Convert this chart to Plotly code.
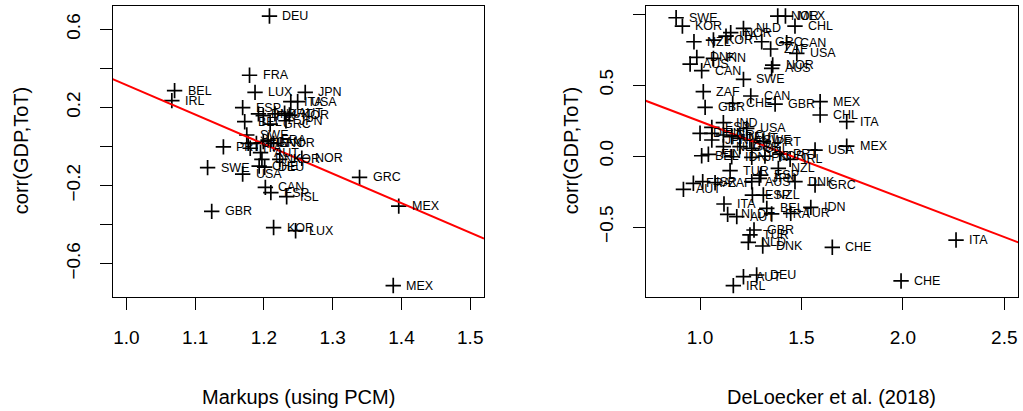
import plotly.graph_objects as go

# ---------------- data: left panel (Markups using PCM) ----------------
left_labels = ["DEU", "FRA", "BEL", "IRL", "LUX", "JPN", "ITA", "USA", "ESP", "DNK",
               "FIN", "PRT", "AUT", "KOR", "BEL", "GRC", "JPN", "SWE", "PRT", "CHE",
               "ITA", "FIN", "CAN", "FRA", "NOR", "AUT", "DNK", "KOR", "NOR", "CHE",
               "DEU", "SWE", "USA", "CAN", "ESP", "ISL", "GRC", "MEX", "GBR", "KOR",
               "LUX", "MEX"]
left_x = [1.208, 1.179, 1.070, 1.066, 1.187, 1.260, 1.239, 1.249, 1.169, 1.192,
          1.199, 1.216, 1.230, 1.237, 1.172, 1.209, 1.232, 1.175, 1.141, 1.177,
          1.180, 1.189, 1.199, 1.206, 1.214, 1.195, 1.197, 1.223, 1.255, 1.193,
          1.201, 1.118, 1.169, 1.202, 1.210, 1.233, 1.339, 1.396, 1.124, 1.214,
          1.246, 1.388]
left_y = [0.668, 0.365, 0.286, 0.235, 0.277, 0.277, 0.230, 0.230, 0.199, 0.167,
          0.158, 0.167, 0.170, 0.161, 0.127, 0.115, 0.132, 0.059, -0.002, 0.016,
          -0.009, 0.016, 0.025, 0.033, 0.016, -0.031, -0.066, -0.066, -0.060, -0.100,
          -0.106, -0.108, -0.141, -0.209, -0.236, -0.257, -0.158, -0.305, -0.332, -0.415,
          -0.431, -0.712]
left_fit = (1.828, -1.513)          # intercept, slope of fitted line
left_xrange = [0.98, 1.52]
left_yrange = [-0.769, 0.721]
left_xticks = [1.0, 1.1, 1.2, 1.3, 1.4, 1.5]
left_xticktext = ["1.0", "1.1", "1.2", "1.3", "1.4", "1.5"]
left_yticks = [-0.6, -0.4, -0.2, 0.0, 0.2, 0.4, 0.6]
left_yticktext = ["\u22120.6", "", "\u22120.2", "", "0.2", "", "0.6"]

# ---------------- data: right panel (DeLoecker et al. 2018) ----------------
right_labels = ["SWE", "KOR", "NOR", "MEX", "CHL", "NLD", "NZL", "KOR", "NOR", "ITA",
                "GRC", "CAN", "ZAF", "USA", "DNK", "FIN", "AUS", "CAN", "SWE", "NOR",
                "AUS", "ZAF", "CAN", "GBR", "CHE", "GBR", "MEX", "CHL", "ITA", "MEX",
                "USA", "IRL", "NZL", "IND", "USA", "ESP", "DEU", "FIN", "JPN", "GRC",
                "DEU", "AUT", "SWE", "PRT", "NLD", "GBR", "BEL", "BEL", "FIN", "IDN",
                "JPN", "KOR", "PRT", "TUR", "ESP", "JPN", "DNK", "GRC", "AUT", "FRA",
                "ISR", "ZAF", "AUS", "ESP", "NZL", "ITA", "NLD", "AUT", "BEL", "FRA",
                "TUR", "IDN", "GBR", "TUR", "NLD", "DNK", "CHE", "ITA", "AUT", "DEU",
                "IRL", "CHE"]
right_x = [0.882, 0.913, 1.383, 1.421, 1.468, 1.214, 0.970, 1.066, 1.151, 1.128,
           1.304, 1.427, 1.348, 1.477, 0.984, 1.066, 0.951, 1.008, 1.214, 1.358,
           1.353, 1.016, 1.250, 1.025, 1.161, 1.370, 1.592, 1.592, 1.723, 1.723,
           1.567, 1.444, 1.386, 1.115, 1.230, 1.058, 1.000, 1.058, 1.058, 1.115,
           1.156, 1.197, 1.246, 1.312, 1.115, 1.197, 1.255, 1.008, 1.041, 1.156,
           1.255, 1.320, 1.394, 1.148, 1.299, 1.292, 1.468, 1.567, 0.918, 0.967,
           1.013, 1.074, 1.255, 1.258, 1.312, 1.118, 1.136, 1.181, 1.329, 1.353,
           1.447, 1.546, 1.266, 1.246, 1.238, 1.309, 1.652, 2.262, 1.214, 1.279,
           1.164, 1.991]
right_y = [0.974, 0.915, 0.986, 0.986, 0.915, 0.899, 0.805, 0.817, 0.869, 0.845,
           0.805, 0.798, 0.754, 0.723, 0.695, 0.688, 0.648, 0.601, 0.540, 0.641,
           0.617, 0.453, 0.423, 0.343, 0.371, 0.366, 0.383, 0.289, 0.242, 0.070,
           0.042, -0.023, -0.087, 0.235, 0.195, 0.202, 0.160, 0.160, 0.113, 0.148,
           0.136, 0.124, 0.113, 0.101, 0.066, 0.066, 0.054, 0.002, 0.012, -0.005,
           -0.009, 0.000, 0.014, -0.103, -0.134, -0.157, -0.181, -0.204, -0.235, -0.192,
           -0.181, -0.188, -0.181, -0.275, -0.275, -0.338, -0.411, -0.427, -0.369, -0.408,
           -0.404, -0.362, -0.521, -0.556, -0.608, -0.634, -0.643, -0.592, -0.850, -0.838,
           -0.913, -0.880]
right_fit = (0.787, -0.543)
right_xrange = [0.732, 2.569]
right_yrange = [-0.991, 1.059]
right_xticks = [1.0, 1.5, 2.0, 2.5]
right_xticktext = ["1.0", "1.5", "2.0", "2.5"]
right_yticks = [-0.5, 0.0, 0.5, 1.0]
right_yticktext = ["\u22120.5", "0.0", "0.5", "1.0"]

y_title = "corr(GDP,ToT)"
left_xtitle = "Markups (using PCM)"
right_xtitle = "DeLoecker et al. (2018)"

FONT = "Liberation Sans, Arial, Helvetica, sans-serif"
W, H = 1023, 411


def px_x(p):
    return p / W


def px_y(p):
    return 1 - p / H


left_dom = [px_x(112.7), px_x(484.0)]
right_dom = [px_x(645.7), px_x(1018.3)]
y_dom = [px_y(296.7), px_y(5.7)]

fig = go.Figure()

panels = [
    ("x", "y", left_x, left_y, left_labels, left_fit, left_xrange),
    ("x2", "y2", right_x, right_y, right_labels, right_fit, right_xrange),
]
annotations = []
for xa, ya, xs, ys, labs, fit, xr in panels:
    fig.add_trace(go.Scatter(
        x=xs, y=ys, mode="markers", xaxis=xa, yaxis=ya,
        marker=dict(symbol="cross-thin", size=11, color="black",
                    line=dict(color="black", width=1.7)),
        showlegend=False, hoverinfo="skip", cliponaxis=False))
    a, b = fit
    fig.add_trace(go.Scatter(
        x=xr, y=[a + b * xr[0], a + b * xr[1]], mode="lines", xaxis=xa, yaxis=ya,
        line=dict(color="#ff0000", width=2), showlegend=False, hoverinfo="skip"))
    for lx, ly, lt in zip(xs, ys, labs):
        annotations.append(dict(
            x=lx, y=ly, xref=xa, yref=ya, text=lt, showarrow=False,
            xanchor="left", yanchor="middle", xshift=12, borderpad=0,
            font=dict(family=FONT, size=12.5, color="black")))

axis_common = dict(showline=True, linecolor="black", linewidth=1, mirror=True,
                   ticks="outside", ticklen=12, tickcolor="black", tickwidth=1,
                   showgrid=False, zeroline=False, automargin=False,
                   tickfont=dict(family=FONT, size=19, color="black"))

fig.update_layout(
    width=W, height=H,
    margin=dict(l=0, r=0, t=0, b=0, pad=0, autoexpand=False),
    paper_bgcolor="white", plot_bgcolor="white",
    xaxis=dict(domain=left_dom, range=left_xrange, anchor="y",
               tickvals=left_xticks, ticktext=left_xticktext,
               ticklabelstandoff=11, **axis_common),
    yaxis=dict(domain=y_dom, range=left_yrange, anchor="x",
               tickvals=left_yticks, ticktext=left_yticktext,
               tickangle=-90, ticklabelstandoff=12, **axis_common),
    xaxis2=dict(domain=right_dom, range=right_xrange, anchor="y2",
                tickvals=right_xticks, ticktext=right_xticktext,
                ticklabelstandoff=11, **axis_common),
    yaxis2=dict(domain=y_dom, range=right_yrange, anchor="x2",
                tickvals=right_yticks, ticktext=right_yticktext,
                tickangle=-90, ticklabelstandoff=12, **axis_common),
)

title_font = dict(family=FONT, size=20, color="black")
annotations += [
    dict(x=(left_dom[0] + left_dom[1]) / 2, y=px_y(397), xref="paper", yref="paper",
         text=left_xtitle, showarrow=False, xanchor="center", yanchor="middle", font=title_font),
    dict(x=(right_dom[0] + right_dom[1]) / 2, y=px_y(397), xref="paper", yref="paper",
         text=right_xtitle, showarrow=False, xanchor="center", yanchor="middle", font=title_font),
    dict(x=px_x(21), y=(y_dom[0] + y_dom[1]) / 2, xref="paper", yref="paper",
         text=y_title, showarrow=False, textangle=-90, xanchor="center", yanchor="middle", font=title_font),
    dict(x=px_x(571), y=(y_dom[0] + y_dom[1]) / 2, xref="paper", yref="paper",
         text=y_title, showarrow=False, textangle=-90, xanchor="center", yanchor="middle", font=title_font),
]
fig.update_layout(annotations=annotations)

fig.write_html("out.html", config={"displayModeBar": False},
               post_script="document.body.style.margin='0px';document.body.style.overflow='hidden';")
